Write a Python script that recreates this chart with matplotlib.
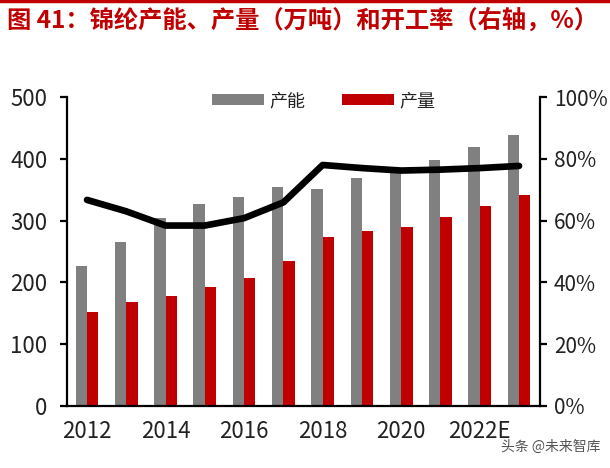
import matplotlib
matplotlib.use("Agg")
import numpy as np
import matplotlib.pyplot as plt
from matplotlib.patches import Patch
from matplotlib.lines import Line2D

plt.rcParams['font.family'] = ['Noto Sans CJK SC', 'DejaVu Sans']

# --------------------------------------------------------------------------
# Data
# --------------------------------------------------------------------------
YEARS = ["2012", "2013", "2014", "2015", "2016", "2017",
         "2018", "2019", "2020", "2021", "2022E", "2023E"]
CAPACITY = [227, 266, 304, 327, 339, 355, 351, 369, 381, 398, 419, 439]      # 产能, 万吨
OUTPUT = [152, 169, 178, 192, 207, 234, 274, 283, 289, 306, 323, 341]        # 产量, 万吨
UTILISATION = [66.7, 63.0, 58.4, 58.4, 60.8, 65.9, 78.0, 77.0, 76.2, 76.5, 77.0, 77.7]  # 开工率, %

TITLE = "图 41：锦纶产能、产量（万吨）和开工率（右轴，%）"
COLOR_GRAY = "#808080"
COLOR_RED = "#C00000"
COLOR_TITLE = "#C00000"


def make_figure():
    fig = plt.figure(figsize=(6.10, 4.68), dpi=100)
    ax = fig.add_axes([0.1098, 0.1325, 0.7752, 0.6602])
    ax2 = ax.twinx()

    x = np.arange(len(YEARS))
    w = 0.29
    ax.bar(x - w / 2, CAPACITY, width=w, color=COLOR_GRAY, zorder=2)
    ax.bar(x + w / 2, OUTPUT, width=w, color=COLOR_RED, zorder=2)
    ax2.plot(x, UTILISATION, color="black", linewidth=4.8,
             solid_capstyle="round", solid_joinstyle="round", zorder=3)

    ax.set_xlim(-0.51, 11.53)
    ax.set_ylim(0, 500)
    ax.set_yticks(range(0, 501, 100))
    ax2.set_ylim(0, 100)
    ax2.set_yticks(range(0, 101, 20))
    ax2.set_yticklabels([f"{v}%" for v in range(0, 101, 20)])

    ax.set_xticks(x[::2])
    ax.set_xticklabels(YEARS[::2])

    for a in (ax, ax2):
        a.spines["top"].set_visible(False)
        for s in ("left", "right", "bottom"):
            a.spines[s].set_linewidth(1.6)
        a.tick_params(axis="y", direction="out", length=5, width=1.6,
                      colors="black", labelcolor="#222222")
    ax.tick_params(axis="y", pad=9, labelsize=16)
    ax2.tick_params(axis="y", pad=5, labelsize=15)
    ax.spines["right"].set_visible(False)
    ax2.spines["left"].set_visible(False)
    ax2.spines["bottom"].set_visible(False)
    ax.tick_params(axis="x", length=0, labelsize=16, pad=10, labelcolor="#222222")

    # legend
    handles = [Patch(facecolor=COLOR_GRAY, label="产能"),
               Patch(facecolor=COLOR_RED, label="产量")]
    fig.legend(handles=handles, loc="center", bbox_to_anchor=(0.531, 0.784),
               ncol=2, frameon=False, fontsize=13, handlelength=2.9,
               handleheight=0.6, handletextpad=0.3, columnspacing=2.0,
               labelcolor="#222222")

    # title and top rule
    fig.add_artist(Line2D([0, 1], [0.998, 0.998], color=COLOR_TITLE,
                          linewidth=2.5, transform=fig.transFigure))
    fig.text(0.011, 0.957, TITLE, color=COLOR_TITLE, fontsize=17.5,
             fontweight="bold", ha="left", va="center")

    # watermark
    fig.text(0.985, 0.045, "头条 @未来智库", color="#555555", fontsize=10,
             ha="right", va="center")

    fig.savefig("out.png", dpi=100)


if __name__ == "__main__":
    make_figure()
